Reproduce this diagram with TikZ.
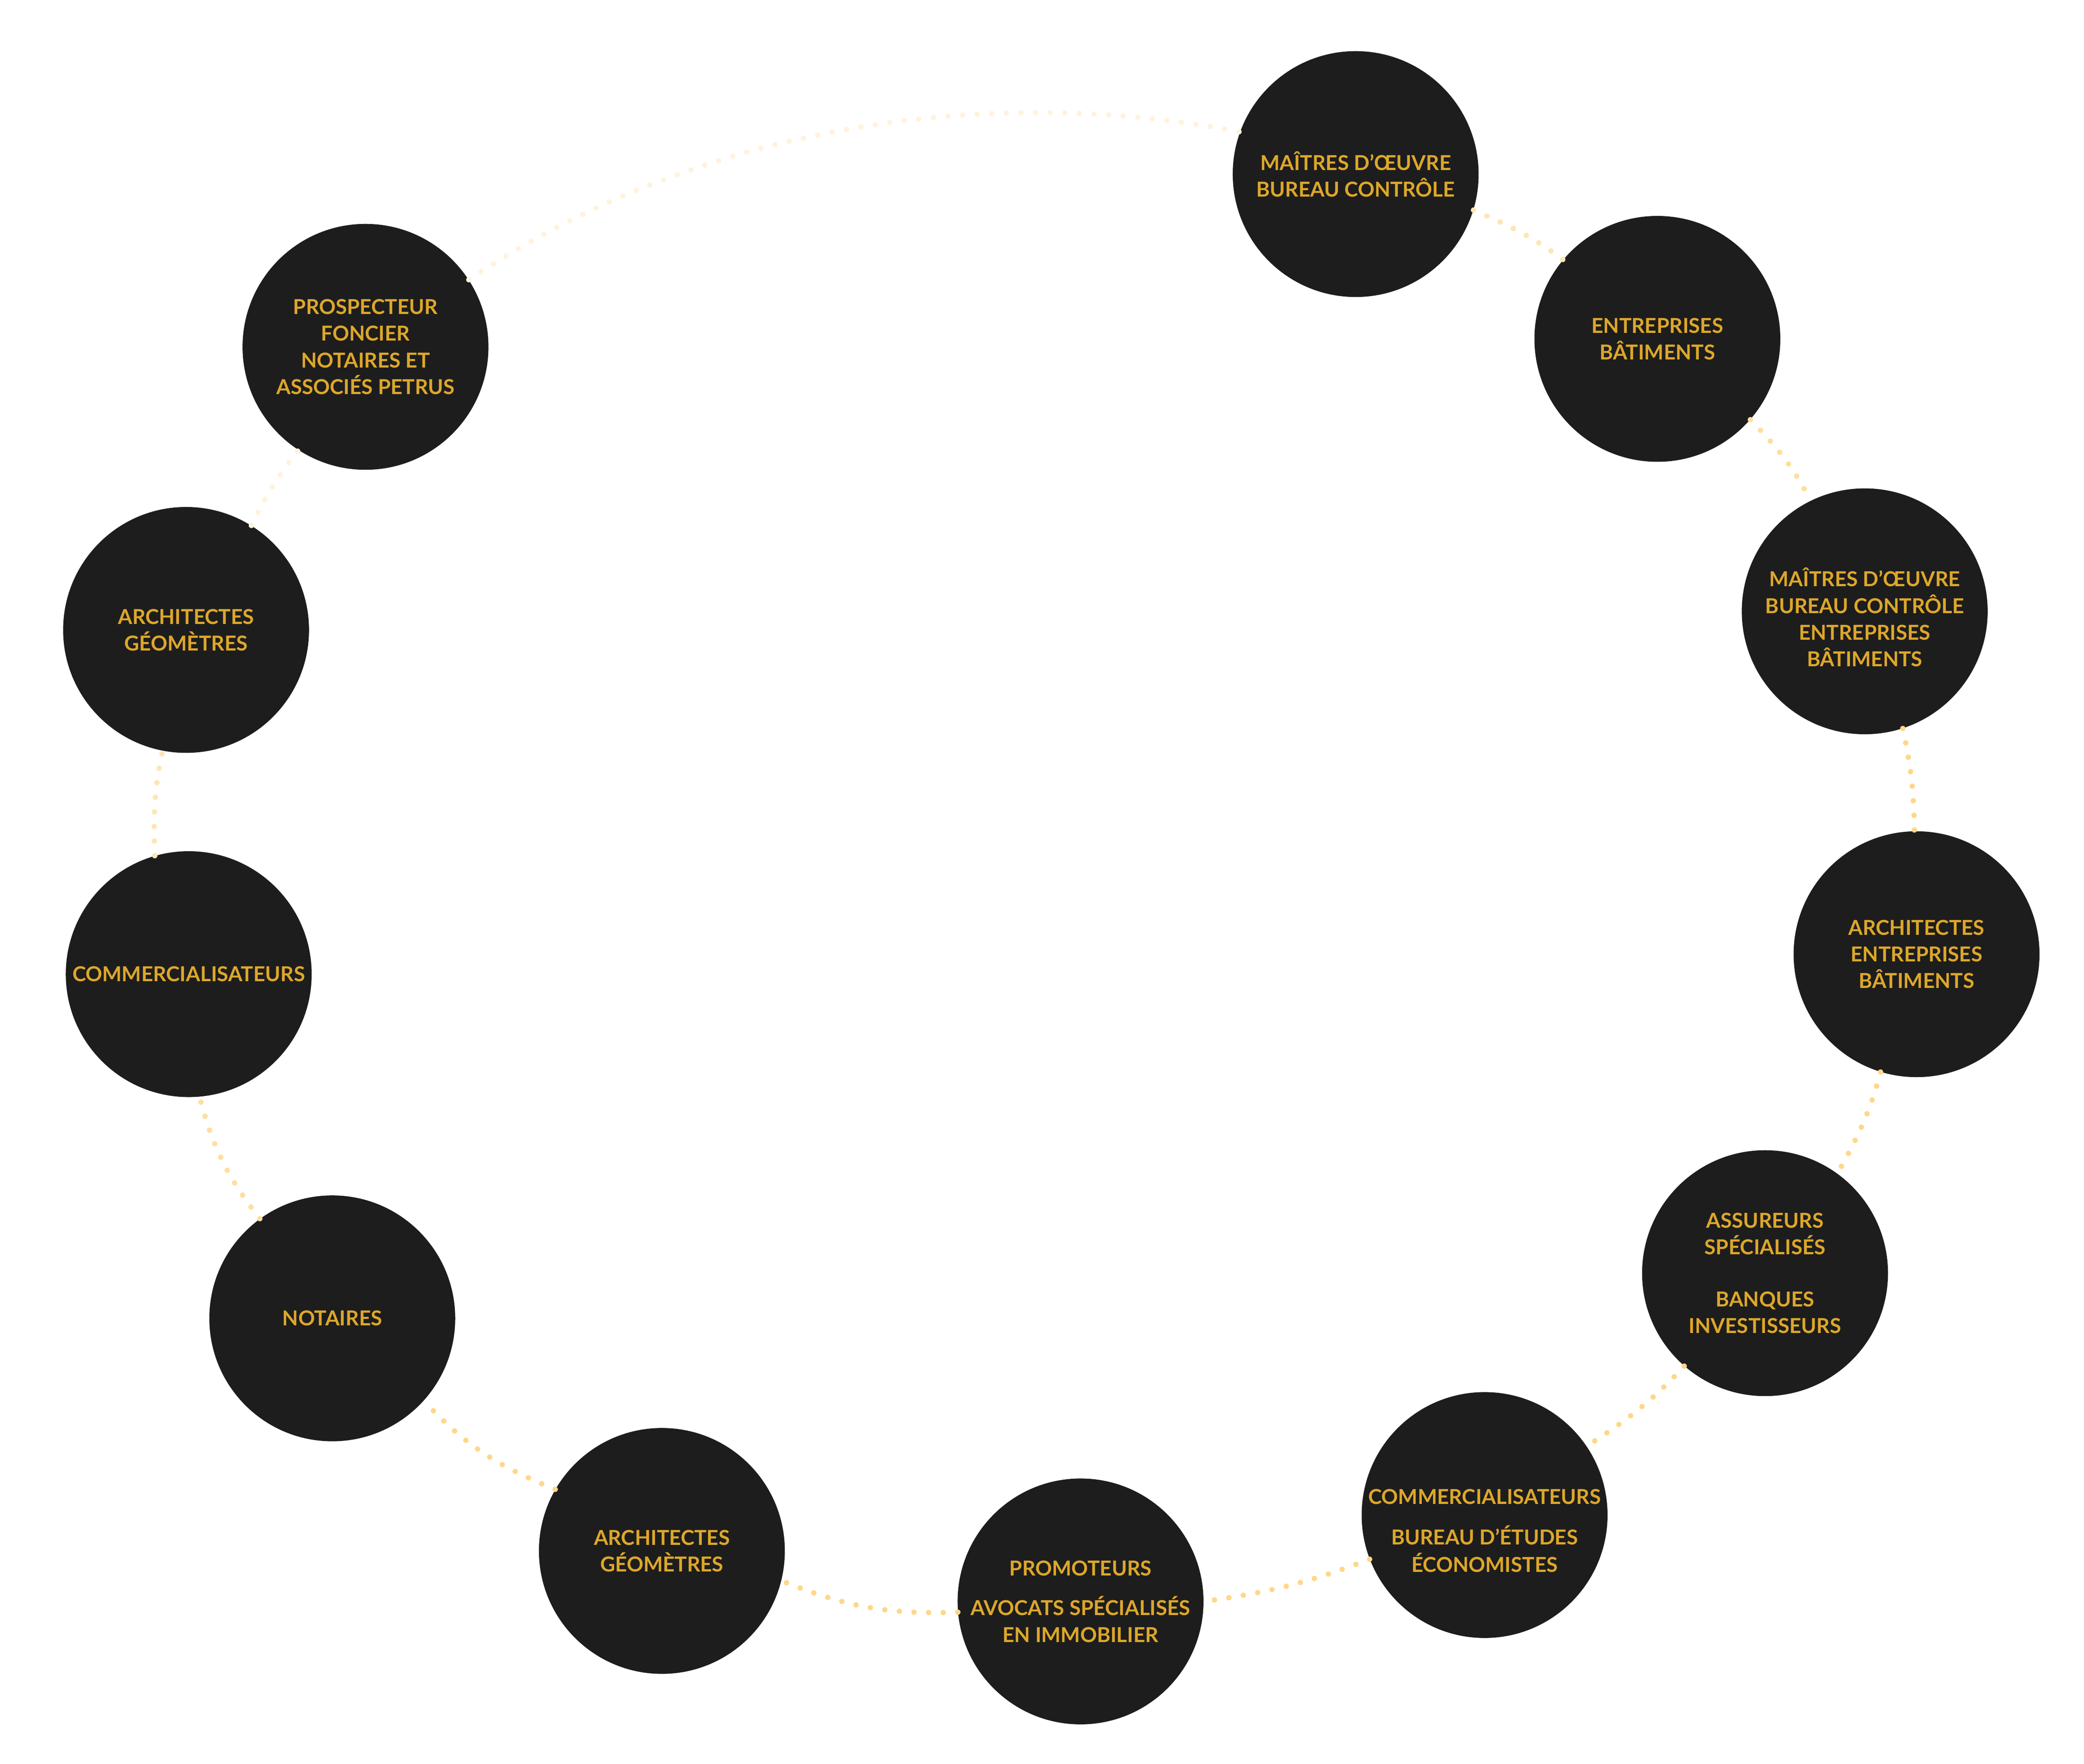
\documentclass[tikz,border=0pt]{standalone}
\usepackage{fontspec}
\setmainfont{Lato}
\usepackage{tikz}

\definecolor{disc}{HTML}{1D1D1D}
\definecolor{gold}{HTML}{DDA72A}
\definecolor{dotfull}{HTML}{FFD789}
\definecolor{dotmid}{HTML}{FFDE9E}
\definecolor{dotlight}{HTML}{FFE5B6}
\definecolor{dotfaint}{HTML}{FFF3DD}

\begin{document}
\begin{tikzpicture}
[
x=1pt, y=1pt,
every node/.style={circle, fill=disc, text=gold, minimum size=185pt, inner sep=-12pt,
	align=center, font=\fontsize{15.5}{20}\selectfont\bfseries},
link/.style={line width=4pt, line cap=round, dash pattern=on 0pt off 11pt}
]
\useasboundingbox (0,0) rectangle (1568,1327);

\node (moe) at (1020,1196) {MAÎTRES D’ŒUVRE\\BUREAU CONTRÔLE};
\node (entr) at (1247,1072) {ENTREPRISES\\BÂTIMENTS};
\node (moeentr) at (1403,867) {\raisebox{-11pt}[0pt][0pt]{\begin{tabular}{@{}c@{}}
	MAÎTRES D’ŒUVRE\\BUREAU CONTRÔLE\\ENTREPRISES\\BÂTIMENTS\end{tabular}}};
\node (archentr) at (1442,609) {ARCHITECTES\\ENTREPRISES\\BÂTIMENTS};
\node (assur) at (1328,369) {ASSUREURS\\SPÉCIALISÉS\\[19pt]BANQUES\\INVESTISSEURS};
\node (commbe) at (1117,187) {\raisebox{-17pt}[0pt][0pt]{\begin{tabular}{@{}c@{}}
	COMMERCIALISATEURS\\[10pt]BUREAU D’ÉTUDES\\ÉCONOMISTES\end{tabular}}};
\node (promo) at (813,122) {PROMOTEURS\\[10pt]AVOCATS SPÉCIALISÉS\\EN IMMOBILIER};
\node (archgeo) at (498,160) {ARCHITECTES\\GÉOMÈTRES};
\node (notaires) at (250,335) {NOTAIRES};
\node (comm) at (142,594) {COMMERCIALISATEURS};
\node (archgeob) at (140,853) {ARCHITECTES\\GÉOMÈTRES};
\node (prosp) at (275,1066) {PROSPECTEUR\\FONCIER\\NOTAIRES ET\\ASSOCIÉS PETRUS};

% dotted ring, clockwise
\draw[link, dotlight] (moe.-17) to[out=-24, in=143] (entr.140);
\draw[link, dotmid] (entr.-41) to[out=-46, in=118] (moeentr.116);
\draw[link, dotfull] (moeentr.-72) to[out=-78, in=91] (archentr.91);
\draw[link, dotfull] (archentr.-107) to[out=-105, in=61] (assur.54);
\draw[link, dotfull] (assur.-131) to[out=-133, in=33] (commbe.34);
\draw[link, dotfull] (commbe.-159) to[out=-159, in=8] (promo.0);
\draw[link, dotfull] (promo.-175) to[out=-178, in=-22] (archgeo.-14);
\draw[link, dotfull] (archgeo.150) to[out=158, in=-47] (notaires.-42);
\draw[link, dotmid] (notaires.126) to[out=128, in=-75] (comm.-85);
\draw[link, dotlight] (comm.106) to[out=92, in=-102] (archgeob.-101);
\draw[link, dotfaint] (archgeob.58) to[out=64, in=-128] (prosp.-123);
\draw[link, dotfaint] (prosp.33) to[out=34, in=169, looseness=0.87] (moe.160);
\end{tikzpicture}
\end{document}
